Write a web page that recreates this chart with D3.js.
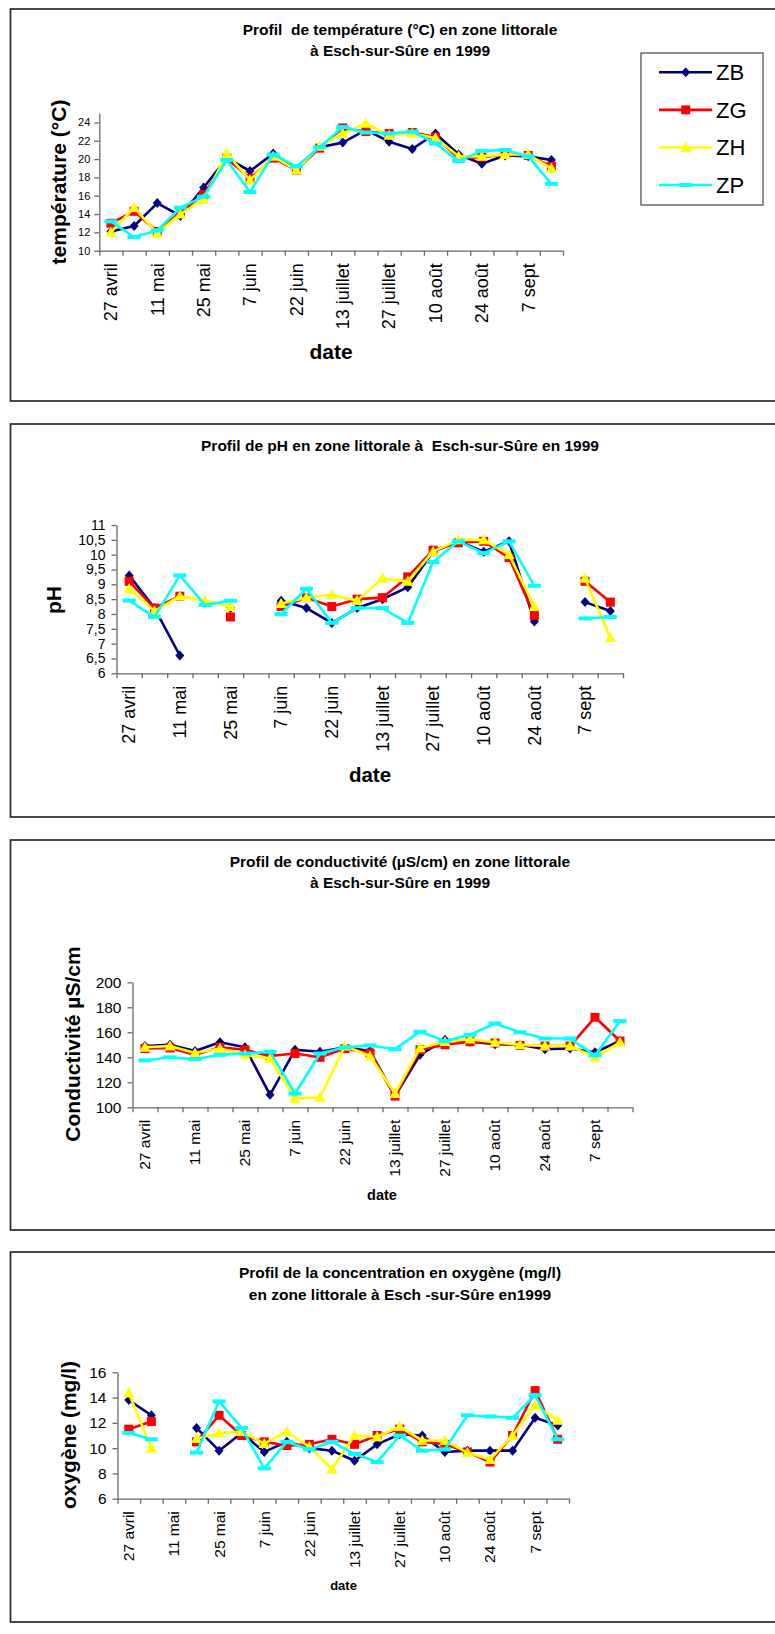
<!DOCTYPE html>
<html><head><meta charset="utf-8">
<script src="https://cdn.jsdelivr.net/npm/d3@7"></script>
<style>
body{margin:0;background:#fff}
svg{display:block}
text{font-family:"Liberation Sans",Arial,Helvetica,sans-serif;white-space:pre}
</style>
</head><body>
<svg id="c" width="775" height="1634"></svg>
<script>
// ---------- DATA ----------
const categories = ["27 avril","","11 mai","","25 mai","","7 juin","","22 juin","","13 juillet","","27 juillet","","10 août","","24 août","","7 sept",""];
const seriesNames = ["ZB","ZG","ZH","ZP"];

// Température (°C)
const tempZB = [12.1,12.7,15.2,13.8,16.9,20.1,18.7,20.6,18.9,21.3,21.8,23.2,21.9,21.1,22.8,20.5,19.5,20.4,20.3,19.9];
const tempZG = [13.0,14.3,12.1,14.2,16.1,20.1,17.9,20.1,18.8,21.2,23.4,23.0,22.8,22.9,22.4,20.1,20.2,20.5,20.4,19.2];
const tempZH = [12.0,14.7,11.9,14.0,15.6,20.6,17.7,20.3,18.8,21.4,22.8,23.9,22.6,22.8,22.3,20.3,20.3,20.5,20.5,19.0];
const tempZP = [13.2,11.5,12.2,14.7,15.9,19.9,16.4,20.5,19.2,21.3,23.5,22.9,22.8,23.0,21.7,19.8,20.9,21.0,20.3,17.3];
const tempTicks = [10,12,14,16,18,20,22,24];

// pH
const phZB = [9.3,8.2,6.6,null,8.2,null,8.45,8.2,7.7,8.2,8.5,8.9,10.1,10.45,10.1,10.45,7.75,null,8.4,8.1];
const phZG = [9.1,8.2,8.6,null,7.9,null,8.25,8.55,8.25,8.5,8.55,9.25,10.15,10.4,10.45,9.9,7.95,null,9.1,8.4];
const phZH = [8.85,8.1,8.6,8.45,8.25,null,8.35,8.55,8.65,8.45,9.2,9.1,10.1,10.5,10.5,10.0,8.25,null,9.2,7.2];
const phZP = [8.45,7.9,9.3,8.3,8.45,null,8.0,8.85,7.7,8.2,8.2,7.7,9.75,10.45,10.05,10.45,8.95,null,7.85,7.9];
const phTicks = [6,6.5,7,7.5,8,8.5,9,9.5,10,10.5,11];

// Conductivité (µS/cm)
const condZB = [149,150,145,152,148,110,146,144.5,148,145,109,142,154,152.5,150.5,150,146.5,147,144,153];
const condZG = [147,147.5,142,148,146,141,143,140,147,143.5,109,146,150,152.5,151.5,149.5,149,149,172,153];
const condZH = [148,149,143.5,147,142,139,107,108,149,141,111,147.5,152.5,154.5,152,150,149,149,140,152];
const condZP = [137.5,140,138.5,142,143,144.5,111,143,148,149.5,146.5,160.5,153,158,167,160,155,155,141.5,169];
const condTicks = [100,120,140,160,180,200];

// Oxygène (mg/l)
const oxZB = [13.8,12.6,null,11.6,9.8,11.2,9.7,10.5,10.0,9.8,9.0,10.3,11.1,11.0,9.7,9.8,9.8,9.8,12.4,11.8];
const oxZG = [11.5,12.1,null,10.5,12.6,11.0,10.5,10.2,10.3,10.7,10.3,11.0,11.5,10.5,10.3,9.7,8.9,11.0,14.55,10.7];
const oxZH = [14.35,10.0,null,10.75,11.2,11.3,10.35,11.3,10.1,8.35,11.0,10.9,11.7,10.6,10.6,9.65,9.1,11.0,13.4,12.2];
const oxZP = [11.2,10.7,null,9.65,13.7,11.6,8.4,10.5,9.9,10.5,9.55,8.9,11.0,9.8,9.9,12.6,12.5,12.4,14.2,10.7];
const oxTicks = [6,8,10,12,14,16];

// ---------- STYLE ----------
const colors = {ZB:"#000080", ZG:"#ff0000", ZH:"#ffff00", ZP:"#00ffff"};
const shapes = {ZB:"M0,-5L4.5,0L0,5L-4.5,0Z", ZG:"M-4.5,-4.5H4.5V4.5H-4.5Z", ZH:"M0,-5.8L5.6,4.4L-5.6,4.4Z", ZP:"M-6.5,-2H6.5V2H-6.5Z"};

const svg = d3.select("#c");

function drawChart(cfg){
  const g = svg.append("g");
  g.append("rect").attr("x",10.5).attr("y",cfg.boxTop).attr("width",800).attr("height",cfg.boxBottom-cfg.boxTop)
    .attr("fill","none").attr("stroke","#2a2a2a").attr("stroke-width",1.7);
  cfg.title.forEach((t,i)=>{
    g.append("text").attr("x",400).attr("y",cfg.titleY[i]).attr("dy","0.35em").attr("text-anchor","middle")
      .attr("font-weight","bold").attr("font-size",15.5).attr("fill","#000").text(t);
  });
  const n = categories.length;
  const x = d3.scaleBand().domain(d3.range(n)).range([cfg.x0,cfg.x1]);
  const xb = d3.scaleLinear().domain([0,n]).range([cfg.x0,cfg.x1]);
  const y = d3.scaleLinear().domain(cfg.yDomain).range([cfg.yBottom,cfg.yTop]);
  const cx = i => x(i)+x.bandwidth()/2;

  // y axis
  const ya = g.append("g").attr("transform",`translate(${cfg.x0},0)`)
    .call(d3.axisLeft(y).tickValues(cfg.yTicks).tickFormat(cfg.fmt).tickSize(5).tickPadding(cfg.tickPad).tickSizeOuter(0));
  ya.attr("color","#6a6a6a").attr("font-family",null).attr("font-size",cfg.tickFont);
  ya.selectAll("path,line").attr("stroke-width",1.3);
  ya.selectAll("text").attr("fill","#000");

  // x axis: tick marks between categories
  const xa = g.append("g").attr("transform",`translate(0,${cfg.yBottom})`)
    .call(d3.axisBottom(xb).tickValues(d3.range(n+1)).tickFormat("").tickSize(5).tickSizeOuter(0));
  xa.attr("color","#6a6a6a");
  xa.selectAll("path,line").attr("stroke-width",1.3);

  // category labels
  const xl = g.append("g").attr("transform",`translate(0,${cfg.yBottom})`)
    .call(d3.axisBottom(x).tickValues(d3.range(n).filter(i=>categories[i])).tickFormat(i=>categories[i]).tickSize(0));
  xl.attr("font-family",null).attr("font-size",cfg.catFont);
  xl.select(".domain").remove();
  xl.selectAll("text").attr("fill","#000").attr("transform","rotate(-90)").attr("x",-12.5).attr("y",0)
    .attr("dy","0.35em").attr("text-anchor","end");

  // axis titles
  g.append("text").attr("transform",`translate(${cfg.yLabelPos[0]},${cfg.yLabelPos[1]}) rotate(-90)`)
    .attr("text-anchor","middle").attr("dy","0.35em").attr("font-weight","bold").attr("font-size",21).text(cfg.yLabel);
  g.append("text").attr("x",cfg.xLabelPos[0]).attr("y",cfg.xLabelPos[1]).attr("dy","0.35em").attr("text-anchor","middle")
    .attr("font-weight","bold").attr("font-size",cfg.xLabelFont).text("date");

  // series
  const line = d3.line().defined(d=>d!=null).x((d,i)=>cx(i)).y(d=>y(d));
  seriesNames.forEach((s,k)=>{
    const data = cfg.series[k];
    g.append("path").datum(data).attr("d",line).attr("fill","none").attr("stroke",colors[s])
      .attr("stroke-width",2.6).attr("stroke-linejoin","round");
    g.selectAll(null).data(data.map((v,i)=>({v,i})).filter(d=>d.v!=null)).enter().append("path")
      .attr("d",shapes[s]).attr("fill",colors[s])
      .attr("transform",d=>`translate(${cx(d.i)},${y(d.v)})`);
  });
}

const intFmt = d3.format("d");
const commaFmt = d => String(d).replace(".",",");

drawChart({boxTop:9, boxBottom:401, title:["Profil  de température (°C) en zone littorale","à Esch-sur-Sûre en 1999"], titleY:[29.3,50.7],
  x0:99.3, x1:563, yBottom:250.7, yTop:113.3, yDomain:[10,25], yTicks:tempTicks, fmt:intFmt, tickFont:11, tickPad:4,
  catFont:18, yLabel:"température (°C)", yLabelPos:[59,182], xLabelPos:[331,352], xLabelFont:21,
  series:[tempZB,tempZG,tempZH,tempZP]});

drawChart({boxTop:424, boxBottom:817, title:["Profil de pH en zone littorale à  Esch-sur-Sûre en 1999"], titleY:[446],
  x0:116.5, x1:623, yBottom:673.3, yTop:525, yDomain:[6,11], yTicks:phTicks, fmt:commaFmt, tickFont:14, tickPad:6,
  catFont:18, yLabel:"pH", yLabelPos:[54,600], xLabelPos:[370,775], xLabelFont:20.5,
  series:[phZB,phZG,phZH,phZP]});

drawChart({boxTop:840, boxBottom:1230, title:["Profil de conductivité (µS/cm) en zone littorale","à Esch-sur-Sûre en 1999"], titleY:[862,883],
  x0:132.5, x1:632.5, yBottom:1107.3, yTop:982.3, yDomain:[100,200], yTicks:condTicks, fmt:intFmt, tickFont:15.5, tickPad:6,
  catFont:15.5, yLabel:"Conductivité µS/cm", yLabelPos:[73,1044], xLabelPos:[382,1195], xLabelFont:14.5,
  series:[condZB,condZG,condZH,condZP]});

drawChart({boxTop:1252, boxBottom:1622, title:["Profil de la concentration en oxygène (mg/l)","en zone littorale à Esch -sur-Sûre en1999"], titleY:[1272.7,1295],
  x0:117.5, x1:569, yBottom:1498.7, yTop:1372.3, yDomain:[6,16], yTicks:oxTicks, fmt:intFmt, tickFont:15.5, tickPad:6,
  catFont:15.5, yLabel:"oxygène (mg/l)", yLabelPos:[68.5,1435], xLabelPos:[343.5,1585], xLabelFont:13,
  series:[oxZB,oxZG,oxZH,oxZP]});

// legend (chart 1)
const lg = svg.append("g");
lg.append("rect").attr("x",641).attr("y",53).attr("width",122).attr("height",152).attr("fill","#fff")
  .attr("stroke","#555").attr("stroke-width",1.3);
const ly = d3.scalePoint().domain(seriesNames).range([72.3,185]);
seriesNames.forEach(s=>{
  lg.append("line").attr("x1",659).attr("x2",712).attr("y1",ly(s)).attr("y2",ly(s)).attr("stroke",colors[s]).attr("stroke-width",2.6);
  lg.append("path").attr("d",shapes[s]).attr("fill",colors[s]).attr("transform",`translate(685.7,${ly(s)})`);
  lg.append("text").attr("x",716).attr("y",ly(s)).attr("dy","0.36em").attr("font-size",22).attr("fill","#000").text(s);
});
</script>
</body></html>
